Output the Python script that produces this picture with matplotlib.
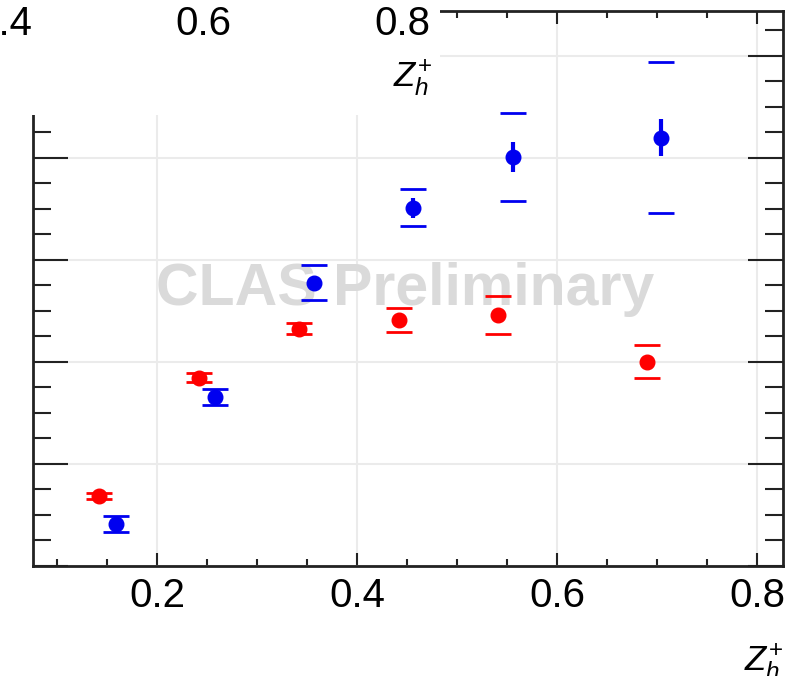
import matplotlib.pyplot as plt
from matplotlib.patches import Rectangle
from matplotlib.ticker import MultipleLocator

plt.rcParams['font.family'] = ['Liberation Sans', 'DejaVu Sans']
plt.rcParams['mathtext.fontset'] = 'custom'
plt.rcParams['mathtext.it'] = 'Liberation Sans:italic'
plt.rcParams['mathtext.rm'] = 'Liberation Sans'

# red series
red_z = [0.142, 0.242, 0.342, 0.442, 0.541, 0.690]
red_val = [0.0686, 0.1843, 0.2324, 0.2412, 0.2461, 0.2000]
red_stat = [0.002, 0.003, 0.003, 0.004, 0.004, 0.005]
red_sys = [0.0025, 0.0044, 0.0054, 0.0118, 0.0186, 0.0162]

# blue series
blue_z = [0.159, 0.258, 0.357, 0.456, 0.556, 0.704]
blue_val = [0.0412, 0.1657, 0.2775, 0.3510, 0.4010, 0.4196]
blue_stat = [0.004, 0.005, 0.006, 0.0098, 0.0147, 0.0181]
blue_sys = [0.0078, 0.0078, 0.0172, 0.0181, 0.0431, 0.0740]

x_ticks = [0.2, 0.4, 0.6, 0.8]
x_ticklabels = ['0.2', '0.4', '0.6', '0.8']
top_ticks = [0.4, 0.6, 0.8]
top_ticklabels = ['0.4', '0.6', '0.8']
xlabel = r'$Z_{h}^{+}$'
watermark = 'CLAS Preliminary'

fig = plt.figure(figsize=(7.94, 6.76), dpi=100)
W, H = 794, 676
ax = fig.add_axes([33 / W, 1 - 566 / H, 750 / W, 555 / H])

ax.set_xlim(0.076, 0.826)
ax.set_ylim(0, 0.544)
ax.set_axisbelow(True)
ax.grid(True, which='major', color='#ebebeb', linewidth=1.5)

for z, v, st, sy, c in [(red_z, red_val, red_stat, red_sys, 'red'),
                        (blue_z, blue_val, blue_stat, blue_sys, '#0000f0')]:
    eb = ax.errorbar(z, v, yerr=sy, fmt='none', ecolor=c, elinewidth=0,
                     capsize=9.4, capthick=2, zorder=3)
    for lc in eb[2]:
        lc.set_visible(False)
    ax.errorbar(z, v, yerr=st, fmt='o', color=c, ms=10.5, elinewidth=3,
                capsize=0, zorder=4)

ax.text(0.496, 0.470, watermark, transform=ax.transAxes, ha='center',
        va='baseline', fontsize=42.5, fontweight='bold', color='#dadada',
        zorder=1.5)

ax.set_xticks(x_ticks)
ax.set_xticklabels(x_ticklabels)
ax.xaxis.set_minor_locator(MultipleLocator(0.05))
ax.yaxis.set_major_locator(MultipleLocator(0.1))
ax.yaxis.set_minor_locator(MultipleLocator(0.025))
ax.tick_params(which='both', direction='in', top=True, right=True,
               labelleft=False, width=1.5, color='#222222')
ax.tick_params(axis='x', which='major', length=9.5, labelsize=29, pad=8)
ax.tick_params(axis='x', which='minor', length=5)
ax.tick_params(axis='y', which='major', length=25)
ax.tick_params(axis='y', which='minor', length=13)
for s in ax.spines.values():
    s.set_linewidth(2)
    s.set_color('#222222')

ax.set_xlabel(xlabel, fontsize=25, loc='right')
ax.xaxis.set_label_coords(1.0, -0.135)

# piece of the panel above, pasted over the top-left corner
cover = Rectangle((0, 1 - 115 / H), 440 / W, 115 / H, transform=fig.transFigure,
                  facecolor='white', edgecolor='none', zorder=5)
fig.add_artist(cover)

ax_top = fig.add_axes([0, 1.0, 440 / W, 0.1], zorder=6)
ax_top.patch.set_visible(False)
for s in ax_top.spines.values():
    s.set_visible(False)
ax_top.set_xlim(0.396, 0.838)
ax_top.set_xticks(top_ticks)
ax_top.set_xticklabels(top_ticklabels)
ax_top.set_yticks([])
ax_top.tick_params(axis='x', length=0, labelsize=29, pad=3.5)
ax_top.set_xlabel(xlabel, fontsize=25, loc='right')
ax_top.xaxis.set_label_coords(432 / 440, -0.85)

fig.savefig('out.png', dpi=100)
